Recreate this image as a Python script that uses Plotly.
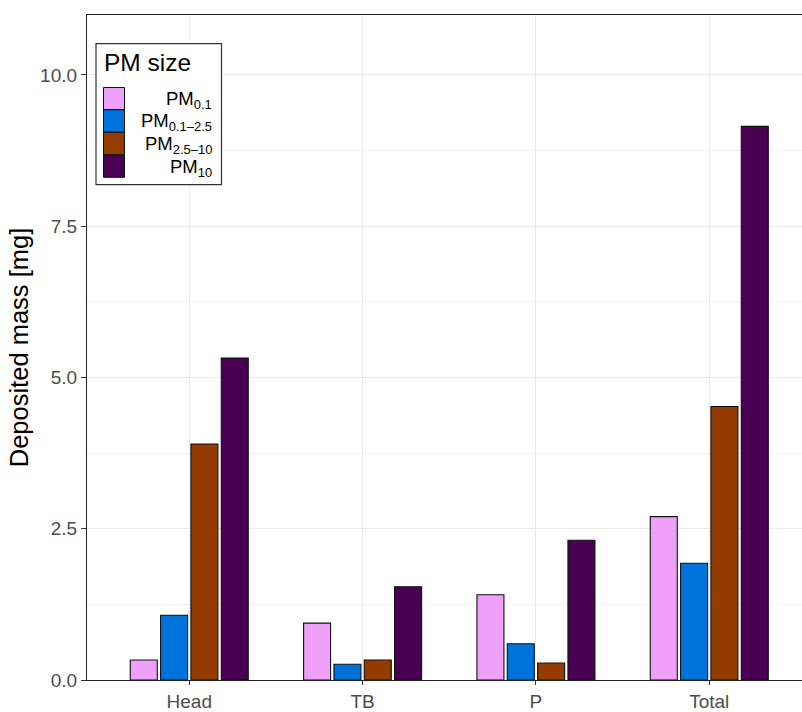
import plotly.graph_objects as go

# Deposited PM mass by respiratory region
regions = ["Head", "TB", "P", "Total"]
pm_01 = [0.33, 0.94, 1.41, 2.70]
pm_01_25 = [1.07, 0.26, 0.60, 1.93]
pm_25_10 = [3.90, 0.33, 0.28, 4.52]
pm_10 = [5.32, 1.54, 2.31, 9.15]

series_names = ["PM<sub>0.1</sub>", "PM<sub>0.1–2.5</sub>", "PM<sub>2.5–10</sub>", "PM<sub>10</sub>"]
series_values = [pm_01, pm_01_25, pm_25_10, pm_10]
series_colors = ["#EFA1F9", "#0072DC", "#943B00", "#4A0052"]

y_ticks = [0, 2.5, 5, 7.5, 10]
y_tick_labels = ["0.0", "2.5", "5.0", "7.5", "10.0"]

W, H = 802, 712
ML, MT, MB, MR = 87, 15, 23, 0
PW, PH = W - ML - MR, H - MT - MB

FONT = "Liberation Sans, Arial, Helvetica, sans-serif"

fig = go.Figure()
for name, vals, col in zip(series_names, series_values, series_colors):
    fig.add_trace(go.Bar(
        x=regions, y=vals, name=name,
        marker=dict(color=col, line=dict(color="#111111", width=1.1)),
        showlegend=False,
    ))


def px_x(p):
    return (p - ML) / PW


def px_y(p):
    return (H - MB - p) / PH


# legend panel drawn in paper space
shapes = [dict(type="rect", xref="paper", yref="paper",
               x0=px_x(96), x1=px_x(221.5), y0=px_y(187), y1=px_y(44),
               line=dict(color="#333333", width=1.2), fillcolor="white", layer="above")]
annotations = [dict(text="PM size", xref="paper", yref="paper",
                    x=px_x(102), y=px_y(63), xanchor="left", yanchor="middle",
                    showarrow=False, font=dict(family=FONT, size=24.5, color="black"))]
key_top = [88.5, 111, 134, 157]
key_h = 22.5
for name, col, top in zip(series_names, series_colors, key_top):
    shapes.append(dict(type="rect", xref="paper", yref="paper",
                       x0=px_x(103.5), x1=px_x(124.5), y0=px_y(top + key_h), y1=px_y(top),
                       line=dict(color="#111111", width=1), fillcolor=col, layer="above"))
    annotations.append(dict(text=name, xref="paper", yref="paper",
                            x=px_x(214), y=px_y(top + key_h / 2 + 1.5), xanchor="right", yanchor="middle",
                            showarrow=False, font=dict(family=FONT, size=18.5, color="black")))

fig.update_layout(
    width=W, height=H,
    margin=dict(l=ML, r=MR, t=MT, b=MB, pad=0),
    paper_bgcolor="white", plot_bgcolor="white",
    barmode="group", bargap=0.3, bargroupgap=0.11,
    font=dict(family=FONT),
    shapes=shapes, annotations=annotations,
    xaxis=dict(
        range=[-0.59, 3.535], showgrid=True, gridcolor="#EBEBEB", gridwidth=1.2,
        showline=True, linecolor="#222222", linewidth=1.2, mirror=True,
        ticks="outside", ticklen=4, tickcolor="#333333", tickwidth=1,
        tickfont=dict(family=FONT, size=19, color="#4D4D4D"),
        zeroline=False,
    ),
    yaxis=dict(
        range=[0, 10.99], tickvals=y_ticks, ticktext=y_tick_labels,
        showgrid=True, gridcolor="#EBEBEB", gridwidth=1.2,
        minor=dict(dtick=1.25, tick0=0, showgrid=True, gridcolor="#F2F2F2", gridwidth=1),
        showline=True, linecolor="#222222", linewidth=1.2,
        ticks="outside", ticklen=5, tickcolor="#333333", tickwidth=1,
        tickfont=dict(family=FONT, size=19, color="#4D4D4D"),
        title=dict(text="Deposited mass [mg]", font=dict(family=FONT, size=25.5, color="black"), standoff=4),
        zeroline=False,
    ),
)

fig.write_html("out.html")
